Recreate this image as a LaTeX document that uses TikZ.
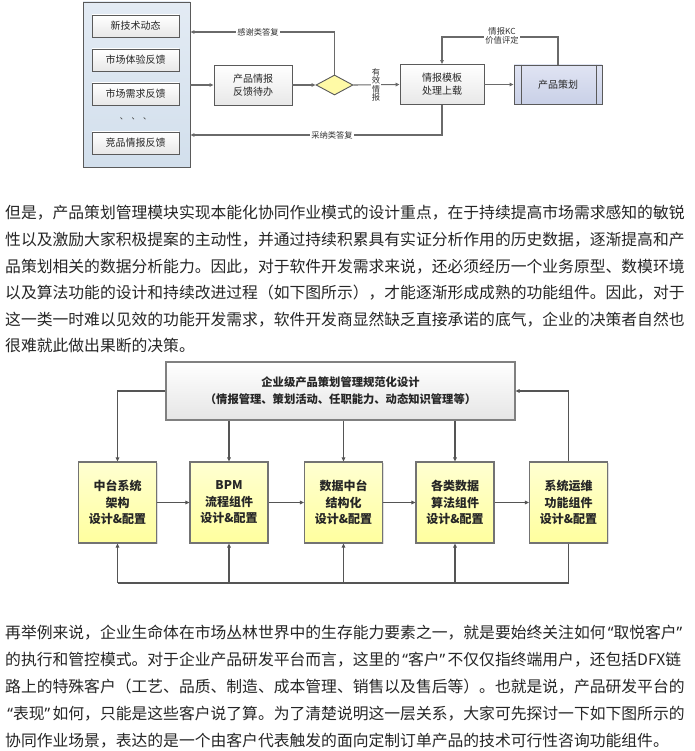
\documentclass[tikz,border=0pt]{standalone}
\usepackage{fontspec}
\setmainfont{Noto Sans CJK SC}
\newfontfamily\latinf{Noto Sans}
\usetikzlibrary{arrows.meta,shapes.geometric,shadows}
\definecolor{txt}{HTML}{262626}
\definecolor{lnA}{HTML}{6A6A6A}
\definecolor{lnB}{HTML}{555555}
\definecolor{bdr}{HTML}{5A5A5A}
\definecolor{panT}{HTML}{E3EBF4}
\definecolor{panB}{HTML}{D2DFEC}
\definecolor{plaT}{HTML}{E0E4F3}
\definecolor{plaB}{HTML}{C9D0E7}
\newcommand{\lqm}{\makebox[0.5em][r]{\latinf “}}
\newcommand{\rqm}{\makebox[0.5em][l]{\latinf ”}}
\tikzset{
  para/.style={anchor=west, inner sep=0pt, text=txt, font=\fontsize{15.8}{20}\selectfont},
  graybox/.style={draw=bdr, line width=0.9pt, top color=white, bottom color=black!9, inner sep=1pt, align=center, font=\fontsize{10}{13}\selectfont, text=black!85},
  lblA/.style={fill=white, inner sep=1pt, font=\fontsize{8.3}{8.6}\selectfont, text=black!80, align=center},
  arrA/.style={draw=lnA, line width=1.1pt, -{Triangle[length=4pt,width=3.6pt]}},
  lineA/.style={draw=lnA, line width=1.1pt},
  yelbox/.style={draw=black!55, line width=1.1pt, top color=yellow!18, bottom color=yellow!38!white, minimum width=78pt, minimum height=81pt, inner sep=0pt, align=center, font=\fontsize{12}{16.5}\selectfont\bfseries, text=black!85, drop shadow={opacity=0.25, shadow xshift=1.2pt, shadow yshift=-1.2pt}},
  arrB/.style={draw=lnB, line width=1.1pt, -{Triangle[length=4pt,width=3.6pt]}},
  lineB/.style={draw=lnB, line width=1.1pt}
}
\begin{document}
\begin{tikzpicture}[x=1pt,y=-1pt]
\useasboundingbox[fill=white] (0,0) rectangle (694,751);

% ---------- top diagram ----------
\node[draw=bdr, line width=0.9pt, top color=panT, bottom color=panB, minimum width=107pt, minimum height=165pt, inner sep=0pt] (panel) at (136.5,84.5) {};
\node[graybox, minimum width=87pt, minimum height=22pt] (s1) at (135.5,26) {新技术动态};
\node[graybox, minimum width=87pt, minimum height=22pt] (s2) at (135.5,60) {市场体验反馈};
\node[graybox, minimum width=87pt, minimum height=22pt] (s3) at (135.5,94) {市场需求反馈};
\node[inner sep=0pt, font=\fontsize{8}{8}\selectfont, text=black!80] (dots) at (135.5,119) {、\ \ 、\ \ 、};
\node[graybox, minimum width=87pt, minimum height=22pt] (s4) at (135.5,143) {竞品情报反馈};

\node[graybox, minimum width=78pt, minimum height=40pt] (fb) at (253,85) {产品情报\\反馈待办};
\node[diamond, draw=bdr, line width=0.9pt, fill=yellow!35, minimum width=37pt, minimum height=20pt, inner sep=0pt] (dia) at (334.5,85) {};
\node[graybox, minimum width=84pt, minimum height=40pt] (tmpl) at (442,84.5) {情报模板\\处理上载};
\node[draw=bdr, line width=0.9pt, top color=plaT, bottom color=plaB, minimum width=88pt, minimum height=39pt, inner sep=0pt, font=\fontsize{10}{13}\selectfont, text=black!85] (plan) at (558,84.5) {产品策划};
\draw[draw=bdr, line width=0.9pt] ([xshift=8pt]plan.north west) -- ([xshift=8pt]plan.south west);
\draw[draw=bdr, line width=0.9pt] ([xshift=-6pt]plan.north east) -- ([xshift=-6pt]plan.south east);

\coordinate (ty) at (0,32);
\coordinate (kc) at (0,37);
\coordinate (by) at (0,135);

\draw[arrA] (panel.east |- fb.west) -- (fb.west);
\draw[arrA] (fb.east) -- (dia.west);
\draw[arrA] (dia.east) -- (tmpl.west);
\draw[arrA] (tmpl.east) -- (plan.west);
\draw[arrA] (dia.north) |- (panel.east |- ty);
\draw[arrA] (plan.north) |- (tmpl.north |- kc) -- (tmpl.north);
\draw[arrA] (tmpl.south) |- (panel.east |- by);

\node[lblA] (l1) at (258,32) {感谢类答复};
\node[lblA] (l2) at (332,135) {采纳类答复};
\node[lblA] (l3) at (502,36) {情报KC\\价值评定};
\node[lblA, font=\fontsize{8.3}{8.4}\selectfont] (l4) at (376,85) {有\\效\\情\\报};

% ---------- paragraph 1 ----------
\node[para] (p1) at (5,213) {但是，产品策划管理模块实现本能化协同作业模式的设计重点，在于持续提高市场需求感知的敏锐};
\node[para] (p2) at (5,240) {性以及激励大家积极提案的主动性，并通过持续积累具有实证分析作用的历史数据，逐渐提高和产};
\node[para] (p3) at (5,267) {品策划相关的数据分析能力。因此，对于软件开发需求来说，还必须经历一个业务原型、数模环境};
\node[para] (p4) at (5,293) {以及算法功能的设计和持续改进过程（如下图所示），才能逐渐形成成熟的功能组件。因此，对于};
\node[para] (p5) at (5,320) {这一类一时难以见效的功能开发需求，软件开发商显然缺乏直接承诺的底气，企业的决策者自然也};
\node[para] (p6) at (5,346) {很难就此做出果断的决策。};

% ---------- middle diagram ----------
\node[draw=black!50, line width=1.1pt, top color=white, bottom color=black!10, minimum width=349pt, minimum height=58pt, inner sep=0pt, align=center, font=\fontsize{11.3}{17}\selectfont\bfseries, text=black!85, drop shadow={opacity=0.25, shadow xshift=1.2pt, shadow yshift=-1.2pt}] (top) at (340.5,391) {企业级产品策划管理规范化设计\\（情报管理、策划活动、任职能力、动态知识管理等）};

\node[yelbox] (b1) at (117.5,502.5) {中台系统\\架构\\设计\&配置};
\node[yelbox] (b2) at (229,502.5) {BPM\\流程组件\\设计\&配置};
\node[yelbox] (b3) at (343.5,502.5) {数据中台\\结构化\\设计\&配置};
\node[yelbox] (b4) at (455,502.5) {各类数据\\算法组件\\设计\&配置};
\node[yelbox] (b5) at (568.5,502.5) {系统运维\\功能组件\\设计\&配置};

\draw[arrB] (top.west) -| (b1.north);
\draw[arrB] (top.south -| b2.north) -- (b2.north);
\draw[arrB] (top.south -| b3.north) -- (b3.north);
\draw[arrB] (top.south -| b4.north) -- (b4.north);
\draw[arrB] (b5.north) |- (top.east);
\draw[arrB] (b1.east) -- (b2.west);
\draw[arrB] (b2.east) -- (b3.west);
\draw[arrB] (b3.east) -- (b4.west);
\draw[arrB] (b4.east) -- (b5.west);

\coordinate (bot) at (0,583);
\draw[lineB] (b5.south) |- (b1.south |- bot);
\draw[arrB] (b1.south |- bot) -- (b1.south);
\draw[arrB] (b2.south |- bot) -- (b2.south);
\draw[arrB] (b3.south |- bot) -- (b3.south);
\draw[arrB] (b4.south |- bot) -- (b4.south);

% ---------- paragraph 2 ----------
\node[para] (q1) at (5,633) {再举例来说，企业生命体在市场丛林世界中的生存能力要素之一，就是要始终关注如何\lqm 取悦客户\rqm};
\node[para] (q2) at (5,660) {的执行和管控模式。对于企业产品研发平台而言，这里的\lqm 客户\rqm 不仅仅指终端用户，还包括DFX链};
\node[para] (q3) at (5,687) {路上的特殊客户（工艺、品质、制造、成本管理、销售以及售后等）。也就是说，产品研发平台的};
\node[para] (q4) at (5,714) {\lqm 表现\rqm 如何，只能是这些客户说了算。为了清楚说明这一层关系，大家可先探讨一下如下图所示的};
\node[para] (q5) at (5,741) {协同作业场景，表达的是一个由客户代表触发的面向定制订单产品的技术可行性咨询功能组件。};
\end{tikzpicture}
\end{document}
